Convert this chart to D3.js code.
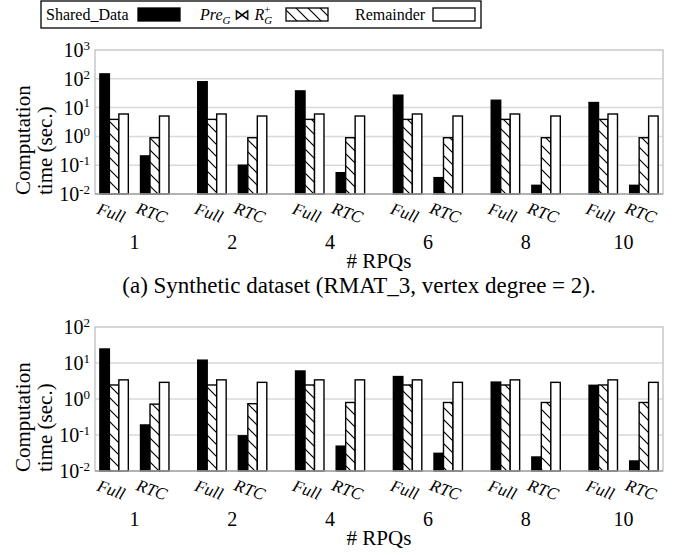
<!DOCTYPE html>
<html>
<head>
<meta charset="utf-8">
<script src="https://cdn.jsdelivr.net/npm/d3@7"></script>
<style>
  body { margin: 0; background: #fff; }
  svg, svg text { font-family: "Liberation Serif", "Times New Roman", serif; }
</style>
</head>
<body>
<svg id="chart" width="678" height="555" font-family="Liberation Serif, serif"></svg>
<script>
// categories
const groups = ["1", "2", "4", "6", "8", "10"];
const modes = ["Full", "RTC"];
const seriesNames = ["Shared_Data", "PreJoin", "Remainder"];

// (a) synthetic dataset
const sharedFullA = [148, 79, 38, 27, 18, 15];
const sharedRtcA = [0.21, 0.1, 0.055, 0.037, 0.02, 0.02];
const joinFullA = [3.9, 3.9, 3.9, 3.9, 3.9, 3.9];
const joinRtcA = [0.9, 0.9, 0.9, 0.9, 0.9, 0.9];
const remFullA = [6.0, 6.0, 6.0, 6.0, 6.0, 6.0];
const remRtcA = [5.1, 5.1, 5.1, 5.1, 5.1, 5.1];

// second panel
const sharedFullB = [24.5, 12, 6.0, 4.2, 2.95, 2.4];
const sharedRtcB = [0.19, 0.095, 0.049, 0.031, 0.0245, 0.019];
const joinFullB = [2.45, 2.45, 2.45, 2.45, 2.45, 2.45];
const joinRtcB = [0.72, 0.74, 0.8, 0.8, 0.8, 0.8];
const remFullB = [3.4, 3.4, 3.4, 3.4, 3.4, 3.4];
const remRtcB = [2.9, 2.9, 3.4, 2.9, 2.9, 2.9];

const plotLeft = 95, plotRight = 663;

const svg = d3.select("#chart");

// hatch pattern
const hatch = svg.append("defs").append("pattern")
  .attr("id", "hatch")
  .attr("patternUnits", "userSpaceOnUse")
  .attr("width", 12)
  .attr("height", 12);
hatch.append("rect").attr("width", 12).attr("height", 12).attr("fill", "#fff");
hatch.append("path")
  .attr("d", "M-3,9L3,15M0,0L12,12M9,-3L15,3")
  .attr("stroke", "#000")
  .attr("stroke-width", 1.2);

const fills = { Shared_Data: "#000", PreJoin: "url(#hatch)", Remainder: "#fff" };

// X SCALES
const x0 = d3.scaleBand().domain(groups).range([plotLeft, plotRight]).paddingInner(0.294).paddingOuter(0.05);
const x1 = d3.scaleBand().domain(modes).range([0, x0.bandwidth()]).paddingInner(0.3);
const x2 = d3.scaleBand().domain(seriesNames).range([0, x1.bandwidth()]);

function drawPanel(top, bottom, maxExp, values) {
  const y = d3.scaleLog().domain([1e-2, Math.pow(10, maxExp)]).range([bottom, top]);
  const exps = d3.range(-2, maxExp + 1);
  const g = svg.append("g");

  // grid lines
  g.selectAll(".grid")
    .data(exps.slice(1, -1))
    .enter()
    .append("line")
    .attr("x1", plotLeft)
    .attr("x2", plotRight)
    .attr("y1", d => y(Math.pow(10, d)))
    .attr("y2", d => y(Math.pow(10, d)))
    .attr("stroke", "#d9d9d9")
    .attr("stroke-width", 1.5);

  // frame
  g.append("rect")
    .attr("x", plotLeft)
    .attr("y", top)
    .attr("width", plotRight - plotLeft)
    .attr("height", bottom - top)
    .attr("fill", "none")
    .attr("stroke", "#bfbfbf")
    .attr("stroke-width", 1.3);

  const rows = [];
  groups.forEach((gr, i) => {
    modes.forEach(m => {
      seriesNames.forEach(s => rows.push({ gr: gr, m: m, s: s, v: values[s][m][i] }));
    });
  });

  // bars
  g.selectAll(".bar")
    .data(rows)
    .enter()
    .append("rect")
    .attr("x", d => x0(d.gr) + x1(d.m) + x2(d.s))
    .attr("y", d => y(d.v))
    .attr("width", x2.bandwidth())
    .attr("height", d => bottom - y(d.v))
    .attr("fill", d => fills[d.s])
    .attr("stroke", "#000")
    .attr("stroke-width", 1.4);

  // bottom axis line
  g.append("line")
    .attr("x1", plotLeft)
    .attr("x2", plotRight)
    .attr("y1", bottom)
    .attr("y2", bottom)
    .attr("stroke", "#a6a6a6")
    .attr("stroke-width", 1.5);

  //Y-AXIS
  const yAxis = d3.axisLeft(y)
    .tickValues(exps.map(e => Math.pow(10, e)))
    .tickSize(0)
    .tickPadding(5)
    .tickFormat("");
  const ay = g.append("g")
    .attr("transform", "translate(" + plotLeft + ",0)")
    .call(yAxis)
    .attr("font-family", null)
    .attr("font-size", 20);
  ay.select(".domain").remove();
  ay.selectAll(".tick text").each(function (d) {
    const t = d3.select(this);
    t.append("tspan").text("10");
    t.append("tspan").attr("font-size", 13).attr("dy", "-0.55em").text(Math.round(Math.log10(d)));
  });

  // mode labels
  const modeRows = [];
  groups.forEach(gr => modes.forEach(m => modeRows.push({ gr: gr, m: m })));
  g.selectAll(".mode")
    .data(modeRows)
    .enter()
    .append("text")
    .attr("transform", d => "translate(" + (x0(d.gr) + x1(d.m) + x1.bandwidth() / 2 - 3) + "," + (bottom + 19) + ") rotate(20)")
    .attr("text-anchor", "middle")
    .attr("dominant-baseline", "central")
    .attr("font-style", "italic")
    .attr("font-size", 17)
    .text(d => d.m);

  //X-AXIS groups
  const ax = g.append("g")
    .attr("transform", "translate(0," + bottom + ")")
    .call(d3.axisBottom(x0).tickSize(0).tickPadding(41))
    .attr("font-family", null)
    .attr("font-size", 20);
  ax.select(".domain").remove();

  // x title
  g.append("text")
    .attr("x", (plotLeft + plotRight) / 2)
    .attr("y", bottom + 74)
    .attr("text-anchor", "middle")
    .attr("font-size", 21)
    .text("# RPQs");

  // y title
  const yt = g.append("text")
    .attr("transform", "translate(0," + (bottom + 1) + ") rotate(-90)")
    .attr("font-size", 21);
  yt.append("tspan").attr("x", 0).attr("y", 30).text("Computation");
  yt.append("tspan").attr("x", 0).attr("y", 52).text("time (sec.)");
}

drawPanel(50, 194, 3, {
  Shared_Data: { Full: sharedFullA, RTC: sharedRtcA },
  PreJoin: { Full: joinFullA, RTC: joinRtcA },
  Remainder: { Full: remFullA, RTC: remRtcA }
});

drawPanel(327, 471, 2, {
  Shared_Data: { Full: sharedFullB, RTC: sharedRtcB },
  PreJoin: { Full: joinFullB, RTC: joinRtcB },
  Remainder: { Full: remFullB, RTC: remRtcB }
});

// caption
svg.append("text")
  .attr("x", 359)
  .attr("y", 293)
  .attr("text-anchor", "middle")
  .attr("font-size", 23)
  .text("(a) Synthetic dataset (RMAT_3, vertex degree = 2).");

//LEGEND
const legend = svg.append("g").attr("font-size", 16);
legend.append("rect")
  .attr("x", 41).attr("y", 1).attr("width", 440).attr("height", 27)
  .attr("fill", "#fff").attr("stroke", "#000").attr("stroke-width", 1.3);

legend.append("text").attr("x", 46).attr("y", 20).text("Shared_Data");

const lt = legend.append("text").attr("x", 200).attr("y", 20).attr("font-style", "italic");
lt.append("tspan").text("Pre");
lt.append("tspan").attr("font-size", 11).attr("dy", 4).text("G");
lt.append("tspan").attr("dy", -4).attr("font-style", "normal").text(" \u22C8 ");
lt.append("tspan").text("R");
lt.append("tspan").attr("font-size", 11).attr("dy", 4).text("G");
lt.append("tspan").attr("font-size", 11).attr("dx", -8).attr("dy", -11).attr("font-style", "normal").text("+");

legend.append("text").attr("x", 355).attr("y", 20).text("Remainder");

const legendX = [138, 286, 433];
legend.selectAll(".key")
  .data(seriesNames)
  .enter()
  .append("rect")
  .attr("x", (d, i) => legendX[i])
  .attr("y", 8)
  .attr("width", 42)
  .attr("height", 13)
  .attr("fill", d => fills[d])
  .attr("stroke", "#000")
  .attr("stroke-width", 1.3);
</script>
</body>
</html>
